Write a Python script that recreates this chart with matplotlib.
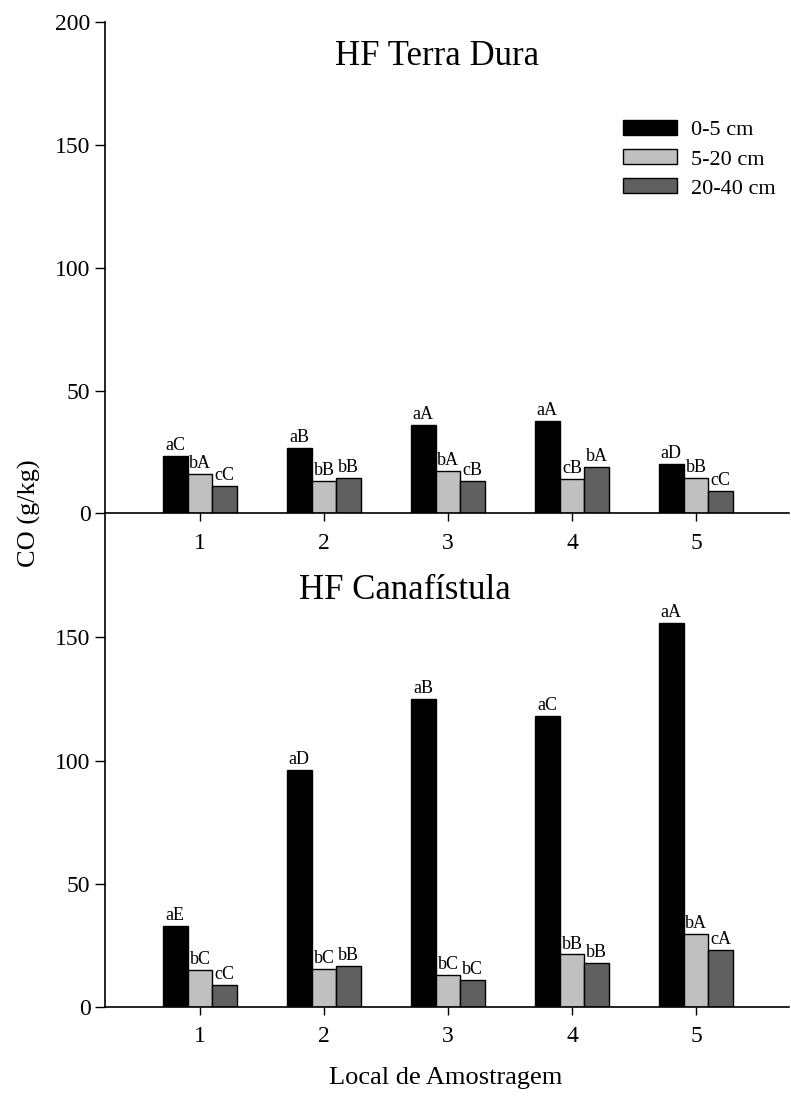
import numpy as np
import matplotlib
matplotlib.use("Agg")
import matplotlib.pyplot as plt
from matplotlib.patches import Patch

plt.rcParams['font.family'] = ['Liberation Serif', 'DejaVu Serif']

sites = [1, 2, 3, 4, 5]
depths = ['0-5 cm', '5-20 cm', '20-40 cm']
colors = ['#000000', '#c0c0c0', '#606060']

# HF Terra Dura
terra_dura = [
    [23.4, 26.5, 35.8, 37.7, 19.9],   # 0-5 cm
    [15.9, 13.1, 17.2, 13.8, 14.2],   # 5-20 cm
    [11.2, 14.2, 13.0, 18.7, 9.0],    # 20-40 cm
]
terra_dura_letters = [
    ['aC', 'aB', 'aA', 'aA', 'aD'],
    ['bA', 'bB', 'bA', 'cB', 'bB'],
    ['cC', 'bB', 'cB', 'bA', 'cC'],
]

# HF Canafistula
canafistula = [
    [32.9, 96.3, 125.0, 118.1, 155.8],
    [14.8, 15.2, 12.8, 21.2, 29.7],
    [8.7, 16.5, 10.8, 17.7, 23.1],
]
canafistula_letters = [
    ['aE', 'aD', 'aB', 'aC', 'aA'],
    ['bC', 'bC', 'bC', 'bB', 'bA'],
    ['cC', 'bB', 'bC', 'bB', 'cA'],
]

fig = plt.figure(figsize=(7.91, 10.99), dpi=100)
ax1 = fig.add_axes([0.1327, 0.5329, 0.8648, 0.4471])
ax2 = fig.add_axes([0.1327, 0.0840, 0.8648, 0.4480])
ax2.patch.set_visible(False)

width = 0.2
x = np.array(sites, dtype=float)


def draw_panel(ax, data, letters, title, tx, ty, yticks):
    for i, (vals, col) in enumerate(zip(data, colors)):
        pos = x + (i - 1) * width
        ax.bar(pos, vals, width=width, color=col, edgecolor='black',
               linewidth=1.0, zorder=2)
        for p, v, lab in zip(pos, vals, letters[i]):
            ax.text(p, v + 0.8, lab, ha='center', va='bottom', fontsize=13)
    ax.set_xlim(0.234, 5.75)
    ax.set_ylim(0, 200)
    ax.set_xticks(sites)
    ax.set_yticks(yticks)
    ax.tick_params(direction='out', length=7, width=1, labelsize=17)
    ax.tick_params(axis='x', length=6, pad=8)
    for s in ['top', 'right']:
        ax.spines[s].set_visible(False)
    for s in ['left', 'bottom']:
        ax.spines[s].set_linewidth(1.2)
    ax.text(tx, ty, title, transform=ax.transAxes, ha='center',
            va='baseline', fontsize=25)


draw_panel(ax1, terra_dura, terra_dura_letters, 'HF Terra Dura',
           0.485, 0.912, [0, 50, 100, 150, 200])
draw_panel(ax2, canafistula, canafistula_letters, 'HF Canafístula',
           0.439, 0.829, [0, 50, 100, 150])

handles = [Patch(facecolor=c, edgecolor='black', linewidth=1.0) for c in colors]
ax1.legend(handles, depths, loc='upper left', bbox_to_anchor=(0.757, 0.80),
           frameon=False, fontsize=16, handlelength=2.45, handleheight=0.65,
           handletextpad=0.6, labelspacing=0.4, borderpad=0,
           borderaxespad=0)

fig.text(0.037, 0.533, 'CO (g/kg)', rotation=90, ha='center', va='center',
         fontsize=19)
fig.text(0.563, 0.019, 'Local de Amostragem', ha='center', va='center',
         fontsize=19)

fig.savefig('out.png', dpi=100)
